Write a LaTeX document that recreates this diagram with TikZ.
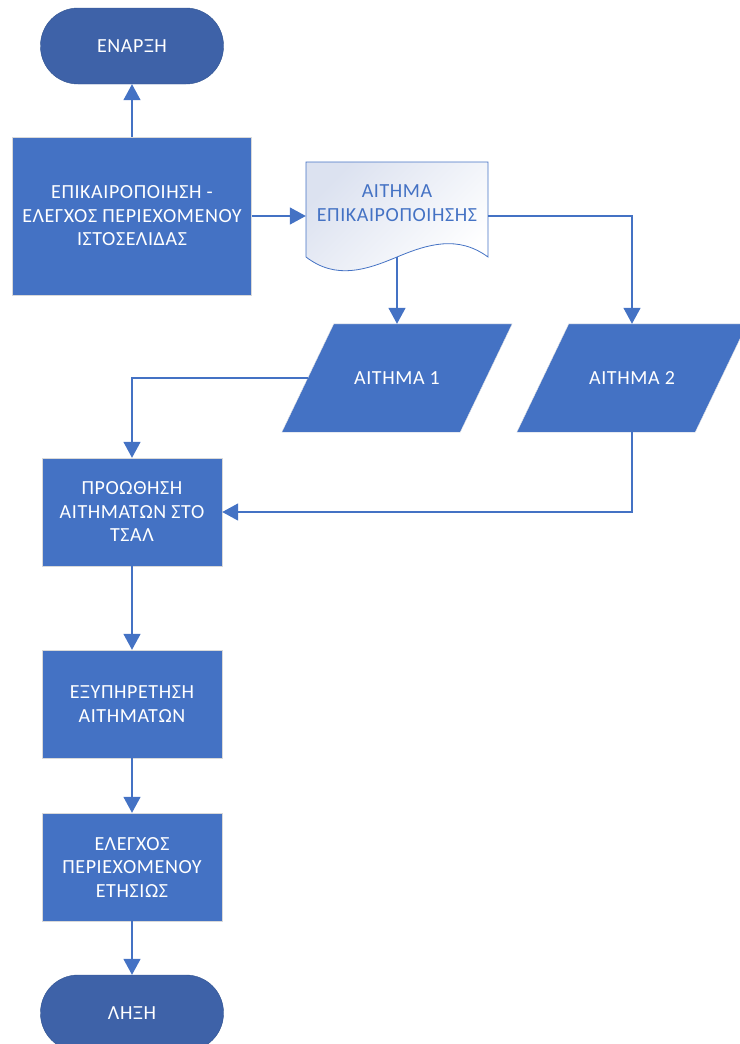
\documentclass[tikz,border=0pt]{standalone}
\usepackage{fontspec}
\setmainfont{Carlito}[LetterSpace=3]
\usetikzlibrary{
        arrows.meta,
        backgrounds
    }
\definecolor{officeblue}{HTML}{4472C4}
\definecolor{termblue}{HTML}{3E62A8}
\definecolor{termline}{HTML}{2F528F}
\definecolor{docshade}{HTML}{DCE2F0}
\tikzset{>={Triangle[length=16pt,width=17pt]}}
\tikzset{
    terminal/.style={draw=termline,thin,fill=termblue,text=white,rounded corners=37.5pt,
        minimum width=183pt,minimum height=76pt},
    process/.style={draw=black!15,fill=officeblue,text=white,align=center,
        minimum width=180pt,minimum height=108pt},
    io/.style={text=white,minimum width=178pt,minimum height=108pt},
    iofill/.style={draw=black!10,fill=officeblue},
    flow/.style={draw=officeblue,line width=1.5pt}
}

\begin{document}
\begin{tikzpicture}[x=1pt,y=-1pt,font=\fontsize{20}{23.5}\selectfont]
        \useasboundingbox (0,0) rectangle (739,1044);

        \node[terminal] (start) at (132,46) {ΕΝΑΡΞΗ};
        \node[process,minimum width=239pt,minimum height=158pt] (upd) at (132,216)
            {ΕΠΙΚΑΙΡΟΠΟΙΗΣΗ -\\ΕΛΕΓΧΟΣ ΠΕΡΙΕΧΟΜΕΝΟΥ\\ΙΣΤΟΣΕΛΙΔΑΣ};
        % document shape with wavy bottom
        \draw[officeblue,thick,shading=axis,top color=docshade,bottom color=white,shading angle=45]
            (306,162) -- (488,162) -- (488,257)
            .. controls (458,235) and (428,244) .. (397,257)
            .. controls (366,270) and (336,280) .. (306,257) -- cycle;
        \node[align=center,text=officeblue,minimum width=182pt,minimum height=82pt] (doc) at (397,203)
            {ΑΙΤΗΜΑ\\ΕΠΙΚΑΙΡΟΠΟΙΗΣΗΣ};
        \node[io] (req1) at (397,378) {ΑΙΤΗΜΑ 1};
        \node[io] (req2) at (632,378) {ΑΙΤΗΜΑ 2};
        \node[process] (fwd) at (132,512) {ΠΡΟΩΘΗΣΗ\\ΑΙΤΗΜΑΤΩΝ ΣΤΟ\\ΤΣΑΛ};
        \node[process] (serve) at (132,704) {ΕΞΥΠΗΡΕΤΗΣΗ\\ΑΙΤΗΜΑΤΩΝ};
        \node[process] (check) at (132,867) {ΕΛΕΓΧΟΣ\\ΠΕΡΙΕΧΟΜΕΝΟΥ\\ΕΤΗΣΙΩΣ};
        \node[terminal] (stop) at (132,1013) {ΛΗΞΗ};

        \begin{scope}[on background layer]
            \foreach \r in {req1,req2}
                \path[iofill] ([xshift=26pt]\r.north west) -- ([xshift=26pt]\r.north east)
                    -- ([xshift=-26pt]\r.south east) -- ([xshift=-26pt]\r.south west) -- cycle;
        \end{scope}

        \draw[flow,->] (upd) -- (start);
        \draw[flow,->] (upd.east) -- (upd.east -| doc.west);
        \draw[flow,->] ([yshift=-13pt]doc.south) -- (req1);
        \draw[flow,->] (upd.east -| doc.east) -| (req2);
        \draw[flow,->] (req1.west) -| (fwd);
        \draw[flow,->] (req2) |- (fwd);
        \draw[flow,->] (fwd) -- (serve);
        \draw[flow,->] (serve) -- (check);
        \draw[flow,->] (check) -- (stop);
    \end{tikzpicture}
\end{document}
